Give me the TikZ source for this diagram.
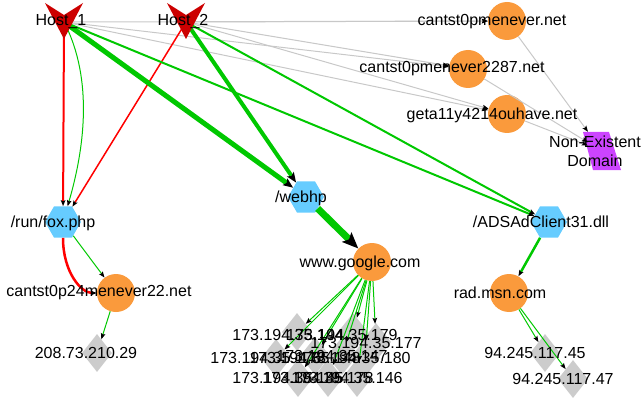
\documentclass[tikz,border=0pt]{standalone}
\usepackage{fontspec}
\setmainfont{Liberation Sans}
\usepackage{tikz}
\usetikzlibrary{calc,shapes.geometric,arrows.meta}
\definecolor{hostred}{HTML}{CC0000}
\definecolor{domorange}{HTML}{FA9A3C}
\definecolor{urlblue}{HTML}{66CCFF}
\definecolor{ipgray}{HTML}{CCCCCC}
\definecolor{nxpurple}{HTML}{CC44FF}
\definecolor{hitgreen}{HTML}{00C800}
\definecolor{missgray}{HTML}{C8C8C8}
\definecolor{badred}{HTML}{FF0000}

\begin{document}
\begin{tikzpicture}[x=1pt,y=-1pt,
 dom/.style={circle,fill=domorange,minimum size=38pt,inner sep=0pt},
 url/.style={regular polygon,regular polygon sides=6,fill=urlblue,minimum size=36pt,inner sep=0pt},
 ip/.style={diamond,fill=ipgray,minimum width=30pt,minimum height=38pt,inner sep=0pt},
 nxd/.style={minimum width=28pt,minimum height=38pt,inner sep=0pt},
 hostpt/.style={inner sep=0pt,minimum size=0pt},
 lbl/.style={font=\fontsize{16}{19}\selectfont,inner sep=0pt,align=center},
 tip/.style={-{Stealth[black,length=6pt,width=4.5pt,inset=1pt]}},
 bigtip/.style={-{Stealth[black,length=10pt,width=8pt,inset=2pt]}},
 hugetip/.style={-{Stealth[black,length=16pt,width=13pt,inset=3pt]}},
 miss/.style={tip,draw=missgray,line width=1pt},
 hit/.style={tip,draw=hitgreen,line width=1pt},
 bad/.style={tip,draw=badred,line width=2pt}]
 \useasboundingbox (0,0) rectangle (644,398);
 % hosts
 \node[hostpt] (h1) at (64,22) {};
 \node[hostpt] (h2) at (186,22) {};
 % domains
 \node[dom] (d1) at (507,21) {};
 \node[dom] (d2) at (468,69) {};
 \node[dom] (d3) at (507,114) {};
 \node[nxd] (nx) at (602,151) {};
 \fill[nxpurple] ($(nx)+(-19,-19)$) -- ($(nx)+(7,-19)$) -- ($(nx)+(19,19)$) -- ($(nx)+(-9,19)$) -- cycle;
 \node[dom] (goog) at (372,262) {};
 \node[dom] (c24) at (116,293) {};
 \node[dom] (msn) at (509,293) {};
 % urls
 \node[url] (fox) at (63,222) {};
 \node[url] (web) at (306,197) {};
 \node[url] (ads) at (549,222) {};
 % addresses
 \node[ip] (ip1) at (97,353) {};
 \node[ip] (ipa) at (545,353) {};
 \node[ip] (ipb) at (573,379) {};
 \node[ip] (g1) at (297,332) {};
 \node[ip] (g2) at (353,332) {};
 \node[ip] (g3) at (376,342) {};
 \node[ip] (g4) at (276,358) {};
 \node[ip] (g5) at (315,356) {};
 \node[ip] (g6) at (342,356) {};
 \node[ip] (g7) at (365,358) {};
 \node[ip] (g8) at (298,378) {};
 \node[ip] (g9) at (328,378) {};
 \node[ip] (g10) at (357,378) {};

 % lookups that failed
 \draw[miss] (h1) -- (d1);
 \draw[miss] (h2) -- (d1);
 \draw[miss] (h1) -- (d2);
 \draw[miss] (h2) -- (d2);
 \draw[miss] (h1) -- (d3);
 \draw[miss] (h2) -- (d3);
 \draw[miss] (d1) -- (nx);
 \draw[miss] (d2) -- (nx);
 \draw[miss] (d3) -- (nx);
 % requests
 \draw[bad] (h1) -- (fox);
 \draw[bad,line width=1.5pt] (h2) -- (fox);
 \draw[hit] (h1) .. controls +(30,58) and +(21,-72) .. (fox);
 \draw[hit,bigtip,line width=5pt] (h1) -- (web);
 \draw[hit,bigtip,line width=4pt] (h2) -- (web);
 \draw[hit,line width=2pt] (h1) -- (ads);
 \draw[hit,line width=2pt] (h2) -- (ads);
 \draw[hit,hugetip,line width=7pt] (web) -- (goog);
 \draw[hit] (fox) -- (c24);
 \draw[bad,line width=2.5pt] (fox) .. controls +(0,50) and +(-35,0) .. (c24);
 \draw[hit,line width=2.5pt] (ads) -- (msn);
 \draw[hit] (c24) -- (ip1);
 \draw[hit] (msn) -- (ipa);
 \draw[hit] (msn) -- (ipb);
 \draw[hit] (goog) -- (g1);
 \draw[hit] (goog) -- (g2);
 \draw[hit] (goog) -- (g3);
 \draw[hit] (goog) -- (g4);
 \draw[hit] (goog) -- (g5);
 \draw[hit] (goog) -- (g6);
 \draw[hit] (goog) -- (g7);
 \draw[hit] (goog) -- (g8);
 \draw[hit] (goog) -- (g9);
 \draw[hit] (goog) -- (g10);

 % host marks
 \fill[hostred] ($(h1)+(-19,-19)$) -- ($(h1)+(0,-7)$) -- ($(h1)+(19,-19)$) -- ($(h1)+(0,17)$) -- cycle;
 \fill[hostred] ($(h2)+(-19,-19)$) -- ($(h2)+(0,-7)$) -- ($(h2)+(19,-19)$) -- ($(h2)+(0,17)$) -- cycle;

 % labels
 \node[lbl] (h1-l) at (61,22) {Host\_1};
 \node[lbl] (h2-l) at (183,22) {Host\_2};
 \node[lbl] (d1-l) at (492,22) {cantst0pmenever.net};
 \node[lbl] (d2-l) at (452,69) {cantst0pmenever2287.net};
 \node[lbl] (d3-l) at (492,115) {geta11y4214ouhave.net};
 \node[lbl] (nx-l) at (595,151) {Non-Existent\\Domain};
 \node[lbl] (fox-l) at (53,223) {/run/fox.php};
 \node[lbl] (web-l) at (301,198) {/webhp};
 \node[lbl] (ads-l) at (541,222) {/ADSAdClient31.dll};
 \node[lbl] (goog-l) at (360,263) {www.google.com};
 \node[lbl] (c24-l) at (99,293) {cantst0p24menever22.net};
 \node[lbl] (msn-l) at (500,293) {rad.msn.com};
 \node[lbl] (ip1-l) at (86,353) {208.73.210.29};
 \node[lbl] (ipa-l) at (535,353) {94.245.117.45};
 \node[lbl] (ipb-l) at (563,379) {94.245.117.47};
 \node[lbl] (g1-l) at (288,335) {173.194.35.144};
 \node[lbl] (g2-l) at (342,335) {173.194.35.179};
 \node[lbl] (g3-l) at (366,343) {173.194.35.177};
 \node[lbl] (g4-l) at (266,358) {173.194.35.176};
 \node[lbl] (g5-l) at (305,358) {173.194.35.148};
 \node[lbl] (g6-l) at (332,356) {173.194.35.147};
 \node[lbl] (g7-l) at (355,358) {173.194.35.180};
 \node[lbl] (g8-l) at (288,378) {173.194.35.145};
 \node[lbl] (g9-l) at (318,378) {173.194.35.178};
 \node[lbl] (g10-l) at (347,378) {173.194.35.146};
\end{tikzpicture}
\end{document}
